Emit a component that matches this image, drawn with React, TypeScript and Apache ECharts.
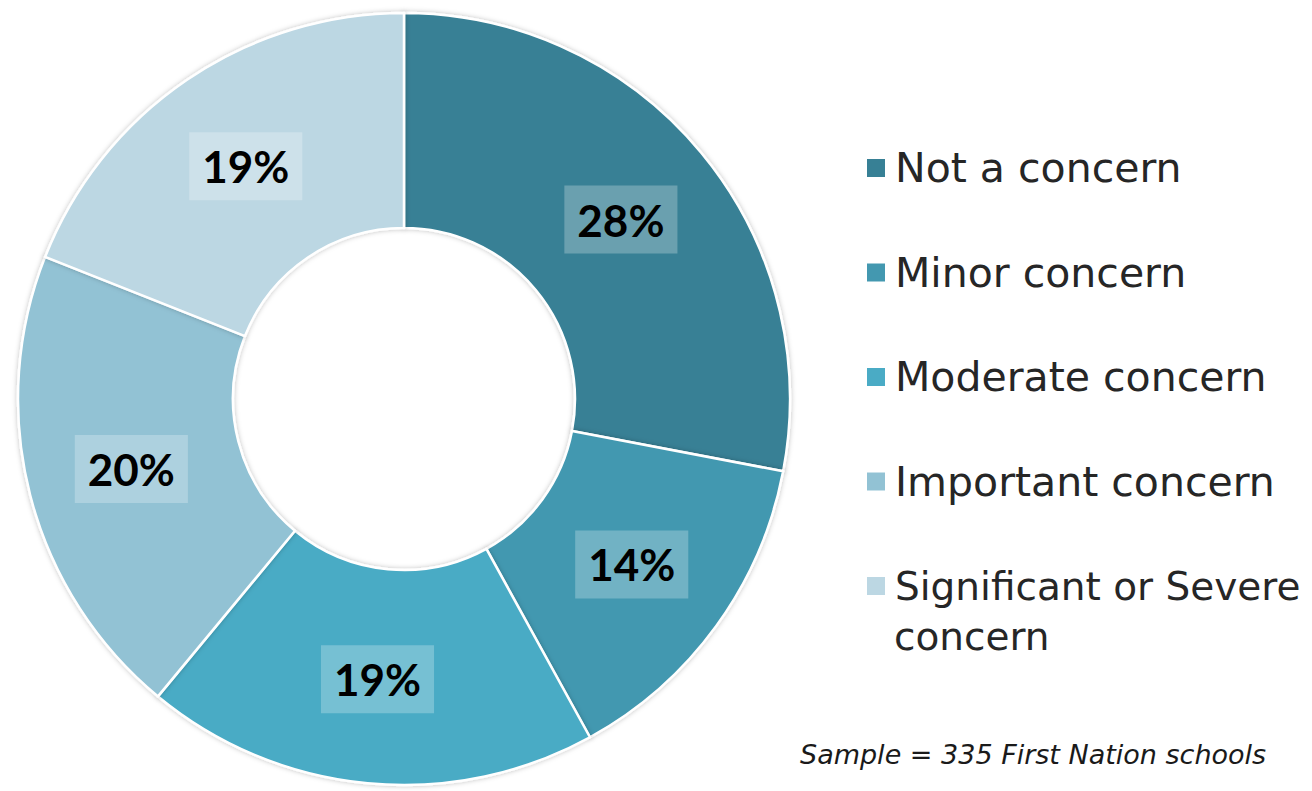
import React, { useEffect, useRef } from "react";
import * as echarts from "echarts";

const categories = [
  "Not a concern",
  "Minor concern",
  "Moderate concern",
  "Important concern",
  "Significant or Severe concern",
];
const values = [28, 14, 19, 20, 19];
const colors = ["#378095", "#4398B0", "#4AABC5", "#92C2D4", "#BCD7E3"];
const lastLine1 = "Significant or Severe";
const lastLine2 = "concern";
const footnote = "Sample = 335 First Nation schools";

export default function App() {
  const ref = useRef<HTMLDivElement>(null);
  useEffect(() => {
    if (!ref.current) return;
    const chart = echarts.init(ref.current, null, { renderer: "svg" });
    const LH = 50;
    chart.setOption({
      animation: false,
      backgroundColor: "#ffffff",
      legend: {
        orient: "vertical",
        left: 865,
        top: 143,
        itemWidth: 20,
        itemHeight: 20,
        itemGap: 54.5,
        icon: "rect",
        selectedMode: false,
        padding: 0,
        formatter: (name: string) =>
          name === categories[categories.length - 1] ? "{s|" + lastLine1 + "}" : name,
        textStyle: {
          fontFamily: "DejaVu Sans",
          fontSize: 41,
          color: "#262626",
          lineHeight: LH,
          padding: [0, 0, 0, 4],
          rich: {
            s: {
              fontFamily: "DejaVu Sans",
              fontSize: 39,
              color: "#262626",
              lineHeight: LH,
            },
          },
        },
        data: categories,
      },
      graphic: [
        {
          type: "text",
          left: 894,
          top: 617,
          style: {
            text: lastLine2,
            fontFamily: "DejaVu Sans",
            fontSize: 39,
            fill: "#262626",
          },
        },
        {
          type: "text",
          left: 800,
          top: 741,
          style: {
            text: footnote,
            fontFamily: "DejaVu Sans",
            fontStyle: "italic",
            fontSize: 27,
            fill: "#1a1a1a",
          },
        },
      ],
      series: [
        {
          type: "pie",
          center: [404, 399],
          radius: [171, 386],
          startAngle: 90,
          clockwise: true,
          avoidLabelOverlap: false,
          itemStyle: {
            borderColor: "#ffffff",
            borderWidth: 2.5,
            shadowBlur: 5,
            shadowColor: "rgba(0,0,0,0.25)",
          },
          label: {
            show: true,
            position: "inside",
            formatter: (p: any) => p.value + "%",
            fontFamily: "Lato",
            fontWeight: "bold",
            fontSize: 44,
            lineHeight: 44,
            color: "#000000",
            backgroundColor: "rgba(255,255,255,0.25)",
            padding: [12, 13],
          },
          labelLine: { show: false },
          emphasis: { disabled: true },
          data: categories.map((c, i) => ({
            name: c,
            value: values[i],
            itemStyle: { color: colors[i] },
          })),
        },
      ],
    });
    return () => chart.dispose();
  }, []);
  return (
    <div
      ref={ref}
      style={{ position: "fixed", left: 0, top: 0, width: 1312, height: 791 }}
    />
  );
}
